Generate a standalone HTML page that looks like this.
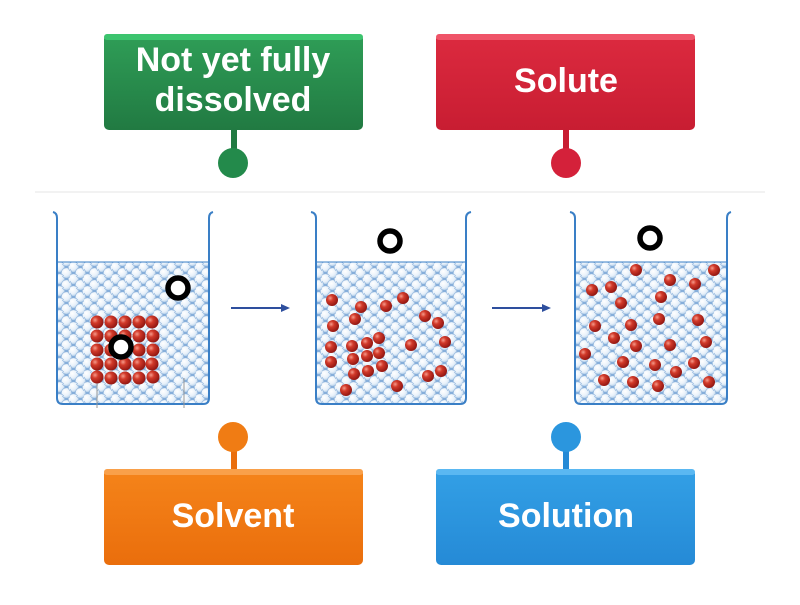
<!DOCTYPE html>
<html><head><meta charset="utf-8"><style>
body{margin:0;width:800px;height:600px;background:#fff;overflow:hidden;font-family:"Liberation Sans","DejaVu Sans",sans-serif}
</style></head><body>
<svg width="800" height="600" viewBox="0 0 800 600" xmlns="http://www.w3.org/2000/svg">
<defs>
<radialGradient id="wb" cx="0.38" cy="0.35" r="0.7"><stop offset="0" stop-color="#ffffff"/><stop offset="0.6" stop-color="#e8f1fa"/><stop offset="1" stop-color="#b3cfea"/></radialGradient>
<radialGradient id="rb" cx="0.35" cy="0.35" r="0.7"><stop offset="0" stop-color="#f59a8a"/><stop offset="0.35" stop-color="#d23a2a"/><stop offset="1" stop-color="#8e1410"/></radialGradient>
<pattern id="bub" width="14" height="12" patternUnits="userSpaceOnUse">
<rect width="14" height="12" fill="#7ea9d8"/>
<g fill="url(#wb)" stroke="#8fb4dc" stroke-width="0.6">
<circle cx="3.5" cy="3" r="5.2"/><circle cx="10.5" cy="9" r="5.2"/>
<circle cx="-3.5" cy="9" r="5.2"/><circle cx="17.5" cy="3" r="5.2"/>
<circle cx="3.5" cy="15" r="5.2"/><circle cx="10.5" cy="-3" r="5.2"/>
</g>
</pattern>
<linearGradient id="g" x1="0" y1="0" x2="0" y2="1"><stop offset="0" stop-color="#2f9e57"/><stop offset="1" stop-color="#217a42"/></linearGradient>
<linearGradient id="r" x1="0" y1="0" x2="0" y2="1"><stop offset="0" stop-color="#dc2a3f"/><stop offset="1" stop-color="#c81d32"/></linearGradient>
<linearGradient id="o" x1="0" y1="0" x2="0" y2="1"><stop offset="0" stop-color="#f5841a"/><stop offset="1" stop-color="#ea6e0c"/></linearGradient>
<linearGradient id="b" x1="0" y1="0" x2="0" y2="1"><stop offset="0" stop-color="#33a0e6"/><stop offset="1" stop-color="#258ad6"/></linearGradient>
</defs>

<line x1="35" y1="192" x2="765" y2="192" stroke="#e4e4e4" stroke-width="1"/>

<g stroke="#3a7fc6" stroke-width="2" fill="none">
<rect x="58" y="262" width="150" height="141" fill="url(#bub)" stroke="none"/>
<path d="M53 212 Q57 213 57 218 L57 398 Q57 404 63 404 L203 404 Q209 404 209 398 L209 218 Q209 213 213 212"/>
<line x1="58" y1="262" x2="208" y2="262" stroke-width="1"/>
<rect x="317" y="262" width="148" height="141" fill="url(#bub)" stroke="none"/>
<path d="M311 212 Q316 213 316 218 L316 398 Q316 404 322 404 L460 404 Q466 404 466 398 L466 218 Q466 213 471 212"/>
<line x1="317" y1="262" x2="465" y2="262" stroke-width="1"/>
<rect x="576" y="262" width="150" height="141" fill="url(#bub)" stroke="none"/>
<path d="M570 212 Q575 213 575 218 L575 398 Q575 404 581 404 L721 404 Q727 404 727 398 L727 218 Q727 213 731 212"/>
<line x1="576" y1="262" x2="726" y2="262" stroke-width="1"/>
</g>
<line x1="97" y1="380" x2="97" y2="408" stroke="#999" stroke-width="1"/>
<line x1="184" y1="378" x2="184" y2="408" stroke="#999" stroke-width="1"/>

<g stroke="#2e4f9e" stroke-width="2"><line x1="231" y1="308" x2="282" y2="308"/><line x1="492" y1="308" x2="543" y2="308"/></g>
<polygon points="290,308 281,304 281,312" fill="#2e4f9e"/><polygon points="551,308 542,304 542,312" fill="#2e4f9e"/>

<g fill="url(#rb)">
<circle cx="97" cy="322" r="6.5"/><circle cx="111" cy="322" r="6.5"/><circle cx="125" cy="322" r="6.5"/><circle cx="139" cy="322" r="6.5"/><circle cx="152" cy="322" r="6.5"/>
<circle cx="97" cy="336" r="6.5"/><circle cx="111" cy="336" r="6.5"/><circle cx="125" cy="336" r="6.5"/><circle cx="139" cy="336" r="6.5"/><circle cx="153" cy="336" r="6.5"/>
<circle cx="97" cy="350" r="6.5"/><circle cx="111" cy="350" r="6.5"/><circle cx="125" cy="350" r="6.5"/><circle cx="139" cy="350" r="6.5"/><circle cx="153" cy="350" r="6.5"/>
<circle cx="97" cy="364" r="6.5"/><circle cx="111" cy="364" r="6.5"/><circle cx="125" cy="364" r="6.5"/><circle cx="139" cy="364" r="6.5"/><circle cx="152" cy="364" r="6.5"/>
<circle cx="97" cy="377" r="6.5"/><circle cx="111" cy="378" r="6.5"/><circle cx="125" cy="378" r="6.5"/><circle cx="139" cy="378" r="6.5"/><circle cx="153" cy="377" r="6.5"/>

<circle cx="332" cy="300" r="6"/><circle cx="361" cy="307" r="6"/><circle cx="386" cy="306" r="6"/><circle cx="403" cy="298" r="6"/><circle cx="333" cy="326" r="6"/><circle cx="355" cy="319" r="6"/><circle cx="425" cy="316" r="6"/><circle cx="438" cy="323" r="6"/><circle cx="331" cy="347" r="6"/><circle cx="352" cy="346" r="6"/><circle cx="367" cy="343" r="6"/><circle cx="379" cy="338" r="6"/><circle cx="411" cy="345" r="6"/><circle cx="445" cy="342" r="6"/><circle cx="331" cy="362" r="6"/><circle cx="353" cy="359" r="6"/><circle cx="367" cy="356" r="6"/><circle cx="379" cy="353" r="6"/><circle cx="354" cy="374" r="6"/><circle cx="368" cy="371" r="6"/><circle cx="382" cy="366" r="6"/><circle cx="428" cy="376" r="6"/><circle cx="441" cy="371" r="6"/><circle cx="346" cy="390" r="6"/><circle cx="397" cy="386" r="6"/>

<circle cx="636" cy="270" r="6"/><circle cx="670" cy="280" r="6"/><circle cx="695" cy="284" r="6"/><circle cx="714" cy="270" r="6"/><circle cx="592" cy="290" r="6"/><circle cx="611" cy="287" r="6"/><circle cx="621" cy="303" r="6"/><circle cx="661" cy="297" r="6"/><circle cx="595" cy="326" r="6"/><circle cx="631" cy="325" r="6"/><circle cx="659" cy="319" r="6"/><circle cx="698" cy="320" r="6"/><circle cx="614" cy="338" r="6"/><circle cx="636" cy="346" r="6"/><circle cx="670" cy="345" r="6"/><circle cx="706" cy="342" r="6"/><circle cx="585" cy="354" r="6"/><circle cx="623" cy="362" r="6"/><circle cx="655" cy="365" r="6"/><circle cx="694" cy="363" r="6"/><circle cx="604" cy="380" r="6"/><circle cx="633" cy="382" r="6"/><circle cx="658" cy="386" r="6"/><circle cx="676" cy="372" r="6"/><circle cx="709" cy="382" r="6"/>
</g>

<g fill="#fff" stroke="#000" stroke-width="5.5">
<circle cx="178" cy="288" r="10"/><circle cx="121" cy="347" r="10"/><circle cx="390" cy="241" r="10"/><circle cx="650" cy="238" r="10"/>
</g>

<g font-weight="bold">
<rect x="231" y="128" width="6" height="25" fill="#217a42"/><circle cx="233" cy="163" r="15" fill="#238a4b"/>
<rect x="104" y="34" width="259" height="96" rx="5" fill="url(#g)"/>
<rect x="104" y="34" width="259" height="6" rx="3" fill="#3cc46e"/>
<text x="233" y="71" font-size="34" fill="#fff" text-anchor="middle">Not yet fully</text>
<text x="233" y="111" font-size="34" fill="#fff" text-anchor="middle">dissolved</text>

<rect x="563" y="128" width="6" height="25" fill="#c81d32"/><circle cx="566" cy="163" r="15" fill="#d4213a"/>
<rect x="436" y="34" width="259" height="96" rx="5" fill="url(#r)"/>
<rect x="436" y="34" width="259" height="6" rx="3" fill="#ef5468"/>
<text x="566" y="92" font-size="34" fill="#fff" text-anchor="middle">Solute</text>

<rect x="231" y="445" width="6" height="28" fill="#ea6e0c"/><circle cx="233" cy="437" r="15" fill="#f07c14"/>
<rect x="104" y="469" width="259" height="96" rx="5" fill="url(#o)"/>
<rect x="104" y="469" width="259" height="6" rx="3" fill="#f9a04a"/>
<text x="233" y="527" font-size="34" fill="#fff" text-anchor="middle">Solvent</text>

<rect x="563" y="445" width="6" height="28" fill="#258ad6"/><circle cx="566" cy="437" r="15" fill="#2b96de"/>
<rect x="436" y="469" width="259" height="96" rx="5" fill="url(#b)"/>
<rect x="436" y="469" width="259" height="6" rx="3" fill="#5ab8f2"/>
<text x="566" y="527" font-size="34" fill="#fff" text-anchor="middle">Solution</text>
</g>
</svg>
</body></html>
